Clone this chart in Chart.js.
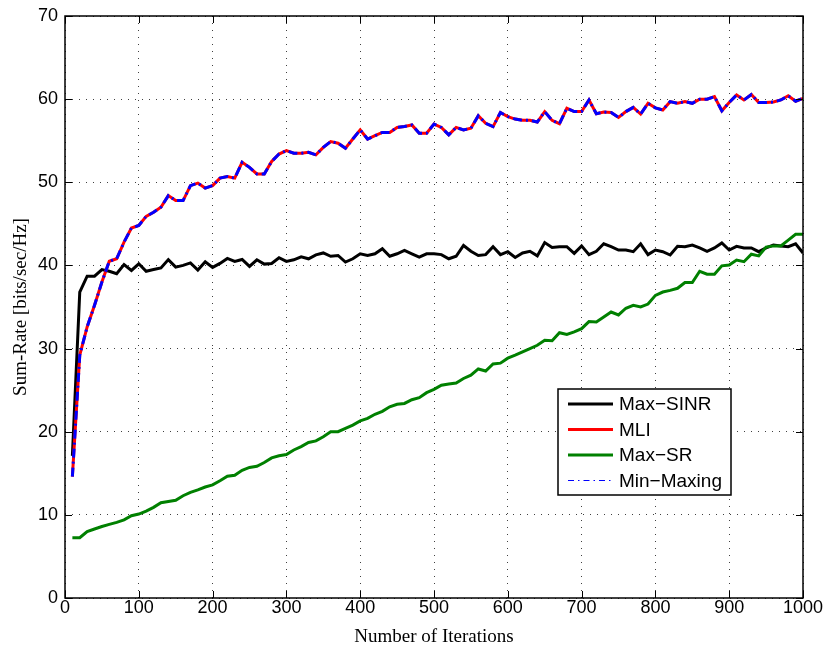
<!DOCTYPE html>
<html>
<head>
<meta charset="utf-8">
<title>Sum-Rate vs Number of Iterations</title>
<script src="https://cdn.jsdelivr.net/npm/chart.js@4.4.1/dist/chart.umd.min.js"></script>
<style>
    html, body { margin: 0; padding: 0; background: #fff; }
    #wrap { width: 827px; height: 648px; }
</style>
</head>
<body>
<div id="wrap"><canvas id="rateChart" width="827" height="648"></canvas></div>
<script>
// Iteration index (x axis)
const iterations = [
    10, 20, 30, 40, 50, 60, 70, 80, 90, 100,
    110, 120, 130, 140, 150, 160, 170, 180, 190, 200,
    210, 220, 230, 240, 250, 260, 270, 280, 290, 300,
    310, 320, 330, 340, 350, 360, 370, 380, 390, 400,
    410, 420, 430, 440, 450, 460, 470, 480, 490, 500,
    510, 520, 530, 540, 550, 560, 570, 580, 590, 600,
    610, 620, 630, 640, 650, 660, 670, 680, 690, 700,
    710, 720, 730, 740, 750, 760, 770, 780, 790, 800,
    810, 820, 830, 840, 850, 860, 870, 880, 890, 900,
    910, 920, 930, 940, 950, 960, 970, 980, 990, 1000
];

// Sum-rate per algorithm [bits/sec/Hz]
const maxSinrRate = [
    17.1, 36.8, 38.7, 38.7, 39.5, 39.3, 39.0, 40.1, 39.4, 40.2,
    39.3, 39.5, 39.7, 40.7, 39.8, 40.0, 40.3, 39.45, 40.44, 39.76,
    40.24, 40.84, 40.48, 40.72, 39.88, 40.68, 40.16, 40.24, 40.92, 40.48,
    40.68, 41.04, 40.8, 41.27, 41.5, 41.1, 41.2, 40.4, 40.8, 41.4,
    41.2, 41.4, 42.0, 41.1, 41.4, 41.8, 41.4, 41.0, 41.4, 41.4,
    41.3, 40.8, 41.1, 42.4, 41.7, 41.2, 41.3, 42.25, 41.3, 41.65,
    40.95, 41.5, 41.7, 41.15, 42.75, 42.15, 42.25, 42.25, 41.45, 42.35,
    41.3, 41.7, 42.6, 42.25, 41.85, 41.85, 41.65, 42.6, 41.3, 41.85,
    41.65, 41.25, 42.3, 42.25, 42.45, 42.1, 41.7, 42.1, 42.7, 41.85,
    42.3, 42.1, 42.1, 41.65, 42.1, 42.45, 42.35, 42.25, 42.6, 41.5
];

const mliRate = [
    14.6, 29.2, 32.6, 35.2, 38.0, 40.5, 40.8, 42.8, 44.5, 44.8,
    45.9, 46.4, 47.0, 48.4, 47.8, 47.8, 49.6, 49.9, 49.3, 49.6,
    50.5, 50.7, 50.5, 52.4, 51.8, 51.0, 51.0, 52.5, 53.4, 53.8,
    53.5, 53.5, 53.6, 53.3, 54.2, 54.9, 54.7, 54.1, 55.2, 56.3,
    55.2, 55.6, 56.0, 56.0, 56.6, 56.7, 56.9, 55.9, 55.9, 57.0,
    56.6, 55.7, 56.6, 56.3, 56.5, 58.0, 57.1, 56.7, 58.4, 57.9,
    57.6, 57.45, 57.45, 57.25, 58.5, 57.45, 57.05, 58.9, 58.5, 58.5,
    59.9, 58.25, 58.45, 58.4, 57.8, 58.5, 59.0, 58.2, 59.5, 58.95,
    58.7, 59.7, 59.5, 59.7, 59.5, 60.0, 60.0, 60.3, 58.6, 59.6,
    60.5, 59.9, 60.55, 59.6, 59.6, 59.65, 59.9, 60.4, 59.75, 60.1
];

const maxSrRate = [
    7.25, 7.25, 8.0, 8.3, 8.6, 8.85, 9.1, 9.4, 9.9, 10.1,
    10.45, 10.9, 11.45, 11.6, 11.75, 12.3, 12.7, 13.0, 13.35, 13.6,
    14.1, 14.65, 14.75, 15.35, 15.7, 15.85, 16.3, 16.85, 17.1, 17.25,
    17.8, 18.2, 18.7, 18.9, 19.4, 20.0, 20.0, 20.4, 20.8, 21.3,
    21.6, 22.1, 22.45, 23.0, 23.3, 23.4, 23.85, 24.1, 24.7, 25.1,
    25.6, 25.75, 25.85, 26.4, 26.8, 27.55, 27.3, 28.15, 28.25, 28.85,
    29.2, 29.6, 30.0, 30.4, 31.0, 30.95, 31.9, 31.7, 32.0, 32.4,
    33.25, 33.2, 33.8, 34.4, 34.05, 34.85, 35.2, 35.0, 35.35, 36.4,
    36.8, 37.0, 37.25, 37.95, 37.95, 39.3, 38.95, 38.95, 39.95, 40.05,
    40.65, 40.45, 41.35, 41.15, 42.2, 42.35, 42.35, 43.05, 43.75, 43.75
];

// Min-Maxing converges to the same rates as MLI
const minMaxingRate = [
    14.6, 29.2, 32.6, 35.2, 38.0, 40.5, 40.8, 42.8, 44.5, 44.8,
    45.9, 46.4, 47.0, 48.4, 47.8, 47.8, 49.6, 49.9, 49.3, 49.6,
    50.5, 50.7, 50.5, 52.4, 51.8, 51.0, 51.0, 52.5, 53.4, 53.8,
    53.5, 53.5, 53.6, 53.3, 54.2, 54.9, 54.7, 54.1, 55.2, 56.3,
    55.2, 55.6, 56.0, 56.0, 56.6, 56.7, 56.9, 55.9, 55.9, 57.0,
    56.6, 55.7, 56.6, 56.3, 56.5, 58.0, 57.1, 56.7, 58.4, 57.9,
    57.6, 57.45, 57.45, 57.25, 58.5, 57.45, 57.05, 58.9, 58.5, 58.5,
    59.9, 58.25, 58.45, 58.4, 57.8, 58.5, 59.0, 58.2, 59.5, 58.95,
    58.7, 59.7, 59.5, 59.7, 59.5, 60.0, 60.0, 60.3, 58.6, 59.6,
    60.5, 59.9, 60.55, 59.6, 59.6, 59.65, 59.9, 60.4, 59.75, 60.1
];

const xTicks = [0, 100, 200, 300, 400, 500, 600, 700, 800, 900, 1000];
const yTicks = [0, 10, 20, 30, 40, 50, 60, 70];

const seriesLabels = ['Max\u2212SINR', 'MLI', 'Max\u2212SR', 'Min\u2212Maxing'];

function toPoints(values) {
    return iterations.map((it, i) => ({ x: it, y: values[i] }));
}

// Box around the axes plus inward tick marks on all four sides
const axesBox = {
    id: 'axesBox',
    afterDatasetsDraw(chart) {
        const { ctx, chartArea: a, scales } = chart;
        const len = 7;
        ctx.save();
        ctx.strokeStyle = '#000';
        ctx.lineWidth = 1;
        ctx.setLineDash([]);
        ctx.beginPath();
        scales.x.ticks.forEach(t => {
            const px = Math.round(scales.x.getPixelForValue(t.value)) + 0.5;
            ctx.moveTo(px, a.bottom); ctx.lineTo(px, a.bottom - len);
            ctx.moveTo(px, a.top); ctx.lineTo(px, a.top + len);
        });
        scales.y.ticks.forEach(t => {
            const py = Math.round(scales.y.getPixelForValue(t.value)) + 0.5;
            ctx.moveTo(a.left, py); ctx.lineTo(a.left + len, py);
            ctx.moveTo(a.right, py); ctx.lineTo(a.right - len, py);
        });
        ctx.stroke();
        ctx.lineWidth = 1.5;
        ctx.strokeRect(Math.round(a.left), Math.round(a.top),
            Math.round(a.right - a.left), Math.round(a.bottom - a.top));
        ctx.restore();
    }
};

// Boxed legend inside the plot, lower right
const boxLegend = {
    id: 'boxLegend',
    afterDraw(chart, args, opts) {
        const { ctx } = chart;
        ctx.save();
        ctx.fillStyle = '#fff';
        ctx.fillRect(opts.x, opts.y, opts.width, opts.height);
        ctx.strokeStyle = '#000';
        ctx.lineWidth = 1.5;
        ctx.setLineDash([]);
        ctx.strokeRect(opts.x, opts.y, opts.width, opts.height);
        ctx.font = opts.font;
        ctx.textBaseline = 'middle';
        chart.data.datasets.forEach((ds, i) => {
            const y = opts.y + opts.firstRow + i * opts.rowGap;
            ctx.beginPath();
            ctx.strokeStyle = ds.borderColor;
            ctx.lineWidth = opts.sampleWidths[i];
            ctx.setLineDash(ds.borderDash ? opts.sampleDash : []);
            ctx.moveTo(opts.x + 10, y);
            ctx.lineTo(opts.x + 55, y);
            ctx.stroke();
            ctx.fillStyle = '#000';
            ctx.fillText(ds.label, opts.x + 61, y + 1);
        });
        ctx.restore();
    }
};

const ctx = document.getElementById('rateChart').getContext('2d');
const rateChart = new Chart(ctx, {
    type: 'line',
    data: {
        datasets: [
            {
                label: seriesLabels[0],
                data: toPoints(maxSinrRate),
                borderColor: '#000000',
                borderWidth: 3,
                order: 3
            },
            {
                label: seriesLabels[1],
                data: toPoints(mliRate),
                borderColor: '#ff0000',
                borderWidth: 3,
                order: 2
            },
            {
                label: seriesLabels[2],
                data: toPoints(maxSrRate),
                borderColor: '#008000',
                borderWidth: 3,
                order: 1
            },
            {
                label: seriesLabels[3],
                data: toPoints(minMaxingRate),
                borderColor: '#0000ff',
                borderWidth: 3,
                borderDash: [9, 4, 2, 4],
                order: 0
            }
        ]
    },
    options: {
        responsive: false,
        animation: false,
        layout: { padding: { left: 0, right: 24, top: 13, bottom: 0 } },
        elements: {
            point: { radius: 0 },
            line: { tension: 0, borderCapStyle: 'butt', borderJoinStyle: 'miter' }
        },
        plugins: {
            legend: { display: false },
            tooltip: { enabled: false },
            boxLegend: {
                x: 558, y: 389, width: 173, height: 106,
                firstRow: 15, rowGap: 25.5,
                font: '19px "Liberation Sans", Arial, sans-serif',
                sampleWidths: [3, 3, 3, 1],
                sampleDash: [6, 4, 1.5, 4]
            }
        },
        scales: {
            x: {
                type: 'linear',
                min: 0,
                max: 1000,
                afterFit(scale) { scale.height = 50; },
                afterBuildTicks(scale) { scale.ticks = xTicks.map(v => ({ value: v })); },
                grid: { color: 'rgba(0,0,0,0.75)', lineWidth: 1, drawTicks: false },
                border: { display: false, dash: [1, 6] },
                ticks: {
                    color: '#000',
                    padding: 1,
                    maxRotation: 0,
                    autoSkip: false,
                    callback: value => String(value),
                    font: { family: '"Liberation Sans", Arial, sans-serif', size: 18, lineHeight: 1 }
                },
                title: {
                    display: true,
                    text: 'Number of Iterations',
                    color: '#000',
                    padding: { top: 0, bottom: 0 },
                    font: { family: '"Liberation Serif", "Times New Roman", serif', size: 19 }
                }
            },
            y: {
                min: 0,
                max: 70,
                afterFit(scale) { scale.width = 65; },
                afterBuildTicks(scale) { scale.ticks = yTicks.map(v => ({ value: v })); },
                grid: { color: 'rgba(0,0,0,0.75)', lineWidth: 1, drawTicks: false },
                border: { display: false, dash: [1, 6] },
                ticks: {
                    color: '#000',
                    padding: 7,
                    callback: value => String(value),
                    font: { family: '"Liberation Sans", Arial, sans-serif', size: 18, lineHeight: 1 }
                },
                title: {
                    display: true,
                    text: 'Sum-Rate [bits/sec/Hz]',
                    color: '#000',
                    padding: { top: 10, bottom: 0 },
                    font: { family: '"Liberation Serif", "Times New Roman", serif', size: 19 }
                }
            }
        }
    },
    plugins: [axesBox, boxLegend]
});
</script>
</body>
</html>
